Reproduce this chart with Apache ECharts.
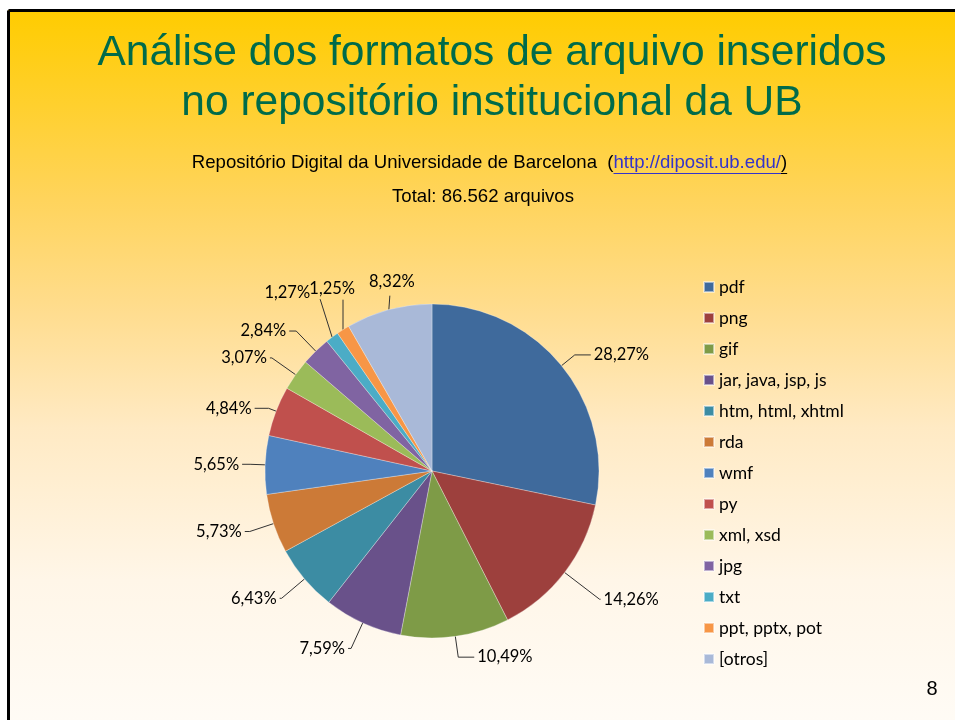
<!DOCTYPE html>
<html>
<head>
<meta charset="utf-8">
<script src="https://cdn.jsdelivr.net/npm/echarts@6/dist/echarts.min.js"></script>
<style>
html,body{margin:0;padding:0;background:#fff;overflow:hidden;}
#c{width:955px;height:720px;}
</style>
</head>
<body>
<div id="c"></div>
<script>
const categories = ['pdf','png','gif','jar, java, jsp, js','htm, html, xhtml','rda','wmf','py','xml, xsd','jpg','txt','ppt, pptx, pot','[otros]'];
const percentages = [28.27,14.26,10.49,7.59,6.43,5.73,5.65,4.84,3.07,2.84,1.27,1.25,8.32];
const sliceColors = ['#3F6A9C','#9D403D','#7E9B47','#69518A','#3C8CA3','#CC7A37','#4F81BD','#C0504D','#9BBB59','#8064A2','#4BACC6','#F79646','#A9B9D8'];
const titleLines = ['Análise dos formatos de arquivo inseridos','no repositório institucional da UB'];
const subtitleText = 'Repositório Digital da Universidade de Barcelona  (';
const linkText = 'http://diposit.ub.edu/';
const subtitleEnd = ')';
const totalText = 'Total: 86.562 arquivos';
const pageNumber = '8';

// leader line styling per slice (first segment, second segment)
const leaderLen1 = [17,44,21,28,30,25,15,8,29,28,10,10,10];
const leaderLen2 = [16,1,16,3,2,5,8,14,2,7,0,0,0];

const chart = echarts.init(document.getElementById('c'), null, {renderer:'canvas'});

const subFont = '18.6px "Liberation Sans"';
const ctx = document.createElement('canvas').getContext('2d');
ctx.font = subFont;
const w1 = ctx.measureText(subtitleText).width;
const w2 = ctx.measureText(linkText).width;
const w3 = ctx.measureText(subtitleEnd).width;
const sx = 489.5 - (w1+w2+w3)/2;
const sy = 163;

const data = categories.map((c,i)=>({
  name:c, value:percentages[i], itemStyle:{color:sliceColors[i]},
  labelLine:{length:leaderLen1[i], length2:leaderLen2[i]}
}));

function topLabels(params){
  const i = params.dataIndex;
  const pts = params.labelLinePoints;
  if(!pts) return {};
  const p0 = pts[0];
  if(i === 10){
    const e = [p0[0]-12, p0[1]-38];
    return {x:e[0]-10, y:e[1]-6, align:'right', verticalAlign:'middle', labelLinePoints:[p0,e,e]};
  }
  if(i === 11){
    const e = [p0[0], p0[1]-30];
    return {x:e[0]+12, y:e[1]-11, align:'right', verticalAlign:'middle', labelLinePoints:[p0,e,e]};
  }
  if(i === 12){
    const e = [p0[0]+1, p0[1]-14];
    return {x:e[0]+2, y:e[1]-14, align:'center', verticalAlign:'middle', labelLinePoints:[p0,e,e]};
  }
  return {};
}

chart.setOption({
  animation:false,
  backgroundColor:'#ffffff',
  graphic:[
    {type:'rect', z:-10, shape:{x:8,y:10,width:1000,height:760},
     style:{fill:new echarts.graphic.LinearGradient(0,0,0,1,[
        {offset:0,color:'#FFCC00'},
        {offset:0.25,color:'#FFD45C'},
        {offset:0.4,color:'#FFDD90'},
        {offset:0.55,color:'#FFEAC4'},
        {offset:0.75,color:'#FFF6E8'},
        {offset:1,color:'#FFFDFA'}])}},
    {type:'line', z:-9, shape:{x1:8.5, y1:10.5, x2:955, y2:10.5}, style:{stroke:'#000', lineWidth:3}},
    {type:'line', z:-9, shape:{x1:8.5, y1:10.5, x2:8.5, y2:720}, style:{stroke:'#000', lineWidth:3}},
    {type:'text', style:{x:sx, y:sy, text:subtitleText, font:subFont, fill:'#000', verticalAlign:'middle'}},
    {type:'text', style:{x:sx+w1, y:sy, text:linkText, font:subFont, fill:'#3333CC', verticalAlign:'middle'}},
    {type:'line', shape:{x1:sx+w1, y1:sy+10.5, x2:sx+w1+w2, y2:sy+10.5}, style:{stroke:'#3333CC', lineWidth:1}},
    {type:'text', style:{x:sx+w1+w2, y:sy, text:subtitleEnd, font:subFont, fill:'#000', verticalAlign:'middle'}},
    {type:'line', shape:{x1:sx+w1+w2, y1:sy+10.5, x2:sx+w1+w2+w3, y2:sy+10.5}, style:{stroke:'#000', lineWidth:1}},
    {type:'text', style:{x:483, y:197, text:totalText, font:subFont, fill:'#000', align:'center', verticalAlign:'middle'}},
    {type:'text', style:{x:932, y:689, text:pageNumber, font:'20px "Liberation Sans"', fill:'#000', align:'center', verticalAlign:'middle'}}
  ],
  title:{
    text:titleLines.join('\n'),
    left:487, top:23, textAlign:'center',
    textStyle:{fontFamily:'"Liberation Sans", Arial', fontSize:42.5, fontWeight:'normal', color:'#006B4A', lineHeight:50}
  },
  legend:{
    orient:'vertical', left:698, top:273,
    icon:'rect', itemWidth:10, itemHeight:10, itemGap:13,
    textStyle:{fontFamily:'Lato, "Noto Sans"', fontSize:17.5, color:'#000', lineHeight:17},
    data:categories
  },
  series:[{
    type:'pie',
    center:[432,471],
    radius:167,
    startAngle:90,
    clockwise:true,
    avoidLabelOverlap:false,
    data:data,
    itemStyle:{borderColor:'rgba(255,255,255,0.5)', borderWidth:0.6},
    label:{
      show:true, position:'outside',
      formatter:p=>p.value.toFixed(2).replace('.',',')+'%',
      fontFamily:'Lato, "Noto Sans"', fontSize:16.5, color:'#000', distanceToLabelLine:3
    },
    labelLine:{show:true, length:20, length2:10, lineStyle:{color:'#333', width:1}},
    labelLayout:topLabels,
    emphasis:{disabled:true}
  }]
});
</script>
</body>
</html>
